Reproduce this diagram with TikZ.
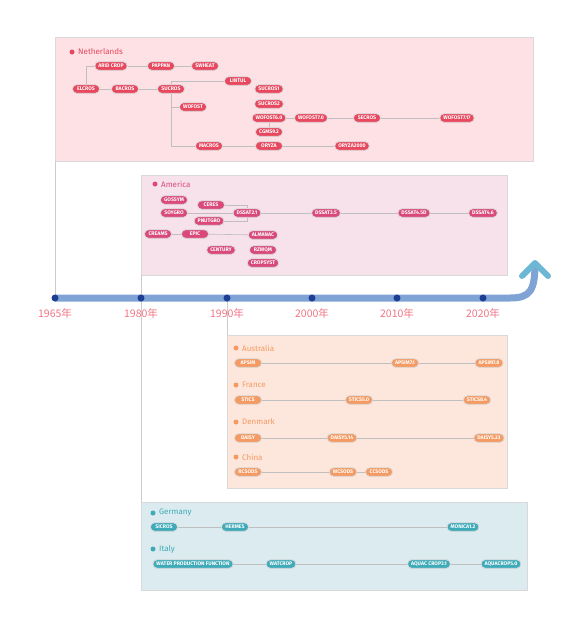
\documentclass[tikz,border=0pt]{standalone}
\usepackage{fontspec}
\setmainfont{Fira Sans}
\newfontfamily\cjk{Noto Sans CJK SC}
\usetikzlibrary{positioning}
\definecolor{myred}{RGB}{233,71,94}
\definecolor{myrose}{RGB}{217,73,122}
\definecolor{myorange}{RGB}{245,154,98}
\definecolor{myteal}{RGB}{63,170,184}
\definecolor{myblue}{RGB}{127,163,212}
\definecolor{mynavy}{RGB}{29,63,147}
\definecolor{mysky}{RGB}{108,183,211}
\definecolor{myyear}{RGB}{240,117,133}
\definecolor{nlbg}{RGB}{253,225,229}
\definecolor{ambg}{RGB}{247,225,235}
\definecolor{orbg}{RGB}{253,231,220}
\definecolor{tlbg}{RGB}{219,235,239}

\begin{document}
\begin{tikzpicture}[x=1pt,y=-1pt,
  box/.style={rounded corners=4pt,draw=black!15,line width=.8pt,text=white,
    font=\bfseries\fontsize{5.2}{6}\selectfont,minimum width=27pt,
    minimum height=8.5pt,inner xsep=3.5pt,inner ysep=0pt},
  link/.style={draw=black!25,line width=.6pt},
  panel/.style={draw=black!15,line width=.8pt},
  lbl/.style={anchor=west,inner sep=0pt,font=\fontsize{8}{9}\selectfont},
  band/.style={draw=myblue,line width=7pt},
  dot/.style={circle,fill=mynavy,inner sep=0pt,minimum size=7pt},
  yearlbl/.style={text=myyear,inner sep=0pt,font=\cjk\fontsize{10.5}{12}\selectfont}]
  \useasboundingbox (0,0) rectangle (579,622);

  % panels
  \filldraw[panel,fill=nlbg] (55,37) rectangle (533,161);
  \filldraw[panel,fill=ambg] (141,175) rectangle (507,275);
  \filldraw[panel,fill=orbg] (227,335) rectangle (507,488);
  \filldraw[panel,fill=tlbg] (141,502) rectangle (527,590);

  % timeline
  \coordinate (start) at (55,298);
  \coordinate (bend) at (510,298);
  \coordinate (tip) at (535,263);
  \coordinate (chl) at (522,276);
  \coordinate (chr) at (548,276);
  \coordinate (nlfoot) at (55,161);
  \coordinate (amfoot) at (141,275);
  \coordinate (tlhead) at (141,502);
  \coordinate (orhead) at (227,335);
  \draw[link,draw=black!20,line width=.8pt] (nlfoot) -- (start);
  \draw[link,draw=black!20,line width=.8pt] (amfoot) -- (tlhead);
  \draw[link,draw=black!20,line width=.8pt] (227,298) -- (orhead);
  \draw[band] (start) -- (bend) .. controls (530,298) and (535,291) .. (tip);
  \draw[draw=mysky,line width=6pt,line cap=round,line join=round] (chl) -- (tip) -- (chr);
  \foreach \x/\yr in {55/1965, 141/1980, 227/1990, 312/2000, 397/2010, 483/2020}
  {
    \node[dot] (d\yr) at (\x,298) {};
    \node[yearlbl] (t\yr) at (\x,313) {\yr{}年};
  }

  % country labels
  \foreach \n/\x/\y/\t/\c in {nl/72/52/Netherlands/myred, am/155/184/America/myrose,
    au/236/348/Australia/myorange, fr/236/385/France/myorange,
    dk/236/422/Denmark/myorange, cn/236/457/China/myorange,
    de/153/513/Germany/myteal, it/153/549/Italy/myteal}
  {
    \fill[\c] (\x,\y) circle (2.5);
    \node[lbl,text=\c] (l\n) at (\x+6,\y) {\t};
  }

  % Netherlands
  \foreach \n/\x/\y/\t in {arid/111/66/ARID CROP, pappan/161/66/PAPPAN, swheat/205/66/SWHEAT,
    elcros/86/89/ELCROS, bacros/125/89/BACROS, sucros/171/89/SUCROS, lintul/238/81/LINTUL,
    sucrosa/269/89/SUCROS1, wofost/193/107/WOFOST, sucrosb/269/104/SUCROS2,
    wofsix/269/118/WOFOST6.0, cgms/269/132/CGMS9.2, macros/209/146/MACROS,
    oryza/269/146/ORYZA, wofseven/311/118/WOFOST7.0, secros/367/118/SECROS,
    wofsvt/457/118/WOFOST7.17, oryzak/352/146/ORYZA2000}
    \node[box,fill=myred] (\n) at (\x,\y) {\t};
  \draw[link] (elcros) |- (arid);
  \draw[link] (lintul) -| (sucros);
  \draw[link] (sucros) |- (wofost);
  \draw[link] (sucros) |- (macros);
  \foreach \a/\b in {arid/pappan, pappan/swheat, elcros/bacros, bacros/sucros,
    macros/oryza, oryza/oryzak, wofsix/wofseven, wofseven/secros, secros/wofsvt, wofsix/cgms}
    \draw[link] (\a) -- (\b);

  % America
  \foreach \n/\x/\y/\t in {gossym/174/200/GOSSYM, soygro/174/213/SOYGRO, ceres/211/205/CERES,
    pnutgro/209/221/PNUTGRO, dssata/247/213/DSSAT2.1, dssatb/326/213/DSSAT3.5,
    dssatc/414/213/DSSAT4.5D, dssatd/483/213/DSSAT4.6, creams/158/234/CREAMS,
    epic/195/234/EPIC, almanac/263/235/ALMANAC, century/221/250/CENTURY,
    rzwqm/263/250/RZWQM, cropsyst/263/263/CROPSYST}
    \node[box,fill=myrose] (\n) at (\x,\y) {\t};
  \draw[link] (ceres) -| (dssata);
  \draw[link] (pnutgro) -| (dssata);
  \foreach \a/\b in {soygro/dssata, dssata/dssatb, dssatb/dssatc, dssatc/dssatd,
    creams/epic, epic/almanac}
    \draw[link] (\a) -- (\b);

  % Australia, France, Denmark, China
  \foreach \n/\x/\y/\t in {apsim/248/363/APSIM, apsimb/405/363/APSIM7.1, apsimc/489/363/APSIM7.8,
    stics/248/400/STICS, sticsb/359/400/STICS5.0, sticsc/477/400/STICS8.4,
    daisy/248/438/DAISY, daisyb/342/438/DAISY5.14, daisyc/489/438/DAISY5.23,
    rcsods/248/472/RCSODS, wcsods/343/472/WCSODS, ccsods/379/472/CCSODS}
    \node[box,fill=myorange] (\n) at (\x,\y) {\t};
  \foreach \a/\b in {apsim/apsimb, apsimb/apsimc, stics/sticsb, sticsb/sticsc,
    daisy/daisyb, daisyb/daisyc, rcsods/wcsods, wcsods/ccsods}
    \draw[link] (\a) -- (\b);

  % Germany, Italy
  \foreach \n/\x/\y/\t in {sicros/164/527/SICROS, hermes/235/527/HERMES, monica/463/527/MONICA1.2,
    wpf/193/564/WATER PRODUCTION FUNCTION, watcrop/281/564/WATCROP,
    aquaa/429/564/AQUAC CROP3.1, aquab/501/564/AQUACROP5.0}
    \node[box,fill=myteal] (\n) at (\x,\y) {\t};
  \foreach \a/\b in {sicros/hermes, hermes/monica, wpf/watcrop, watcrop/aquaa, aquaa/aquab}
    \draw[link] (\a) -- (\b);
\end{tikzpicture}
\end{document}
